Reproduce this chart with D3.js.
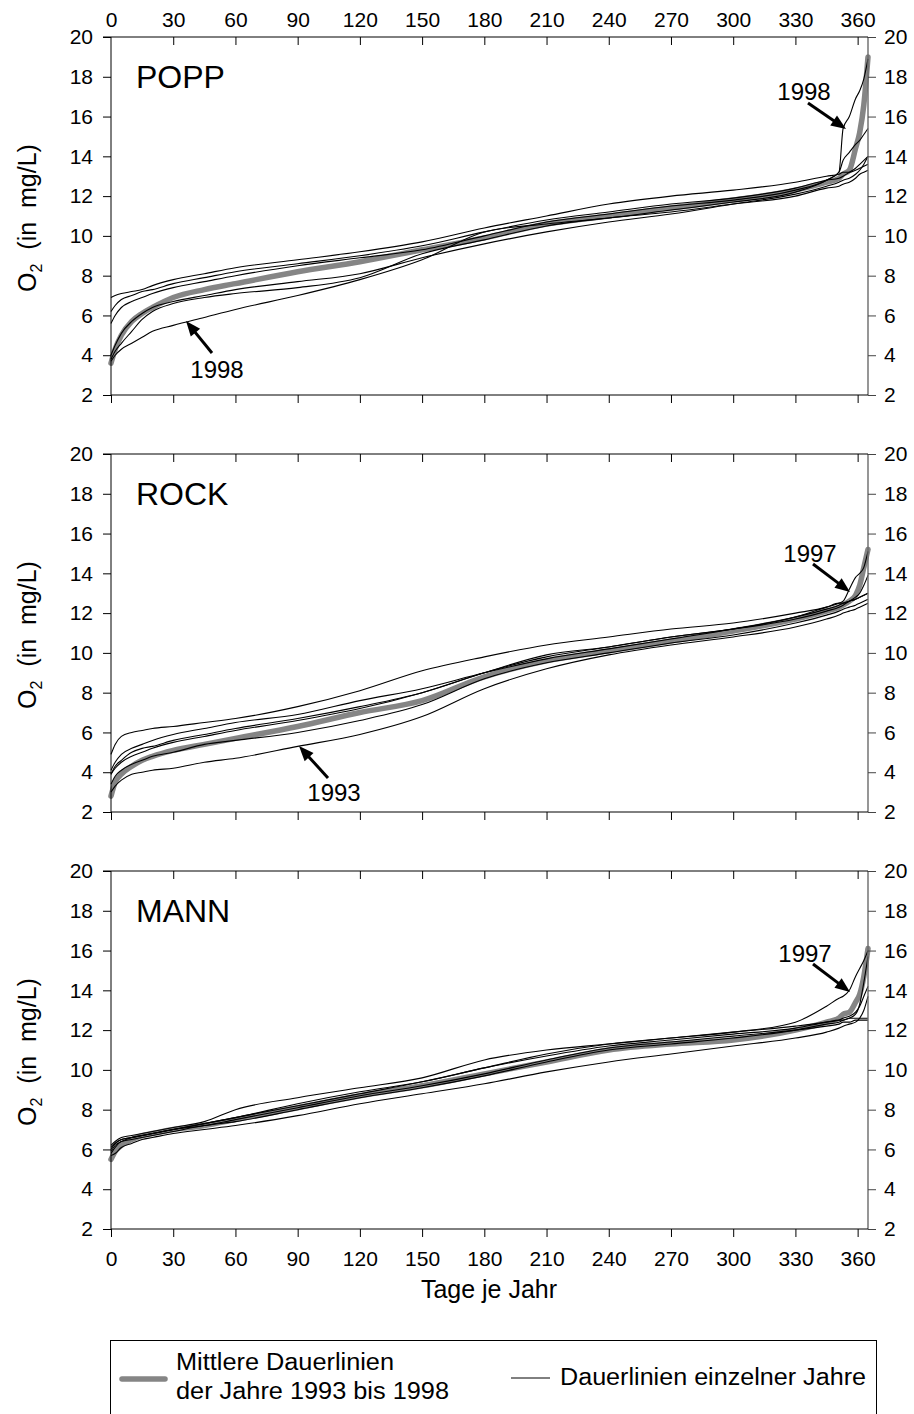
<!DOCTYPE html>
<html>
<head>
<meta charset="utf-8">
<script src="https://cdn.jsdelivr.net/npm/d3@7/dist/d3.min.js"></script>
<style>
  html, body { margin: 0; padding: 0; background: #fff; }
  svg { display: block; font-family: "Liberation Sans", Arial, sans-serif; }
</style>
</head>
<body>
<svg id="chart" width="914" height="1414"></svg>
<script>
// Duration curves of dissolved oxygen (O2, mg/L) at three stations, 1993-1998.
// Each series is the sorted daily values of one year; "mean" is the averaged curve.

const days = [0, 2, 5, 10, 15, 20, 30, 45, 60, 90, 120, 150, 180, 210, 240, 270, 300, 330, 345, 351, 353, 356, 359, 361, 363, 365];

const xTicks = [0, 30, 60, 90, 120, 150, 180, 210, 240, 270, 300, 330, 360];
const yTicks = [2, 4, 6, 8, 10, 12, 14, 16, 18, 20];

// POPP
const poppMean = [3.6, 4.3, 5.0, 5.7, 6.1, 6.4, 6.9, 7.3, 7.6, 8.2, 8.7, 9.3, 9.9, 10.6, 11.0, 11.4, 11.8, 12.3, 12.7, 12.9, 13.1, 13.3, 14.4, 15.2, 16.6, 19.0];
const popp1998 = [3.7, 4.0, 4.3, 4.6, 4.9, 5.2, 5.5, 5.9, 6.3, 7.0, 7.8, 8.8, 10.2, 10.6, 10.9, 11.3, 11.7, 12.2, 12.8, 13.2, 15.4, 16.0, 16.9, 17.3, 17.9, 18.9];
const poppA = [6.9, 7.0, 7.1, 7.2, 7.3, 7.5, 7.8, 8.1, 8.4, 8.8, 9.2, 9.7, 10.4, 11.0, 11.6, 12.0, 12.3, 12.7, 13.0, 13.1, 13.2, 13.2, 13.3, 13.4, 13.5, 13.6];
const poppB = [6.2, 6.5, 6.8, 7.0, 7.2, 7.3, 7.6, 7.9, 8.2, 8.6, 9.0, 9.5, 10.2, 10.8, 11.2, 11.6, 11.9, 12.4, 12.8, 12.9, 13.0, 13.2, 13.4, 13.6, 13.8, 14.0];
const poppC = [5.6, 6.0, 6.4, 6.7, 6.9, 7.1, 7.4, 7.7, 8.0, 8.5, 8.9, 9.3, 10.0, 10.7, 11.1, 11.5, 11.8, 12.3, 12.8, 13.2, 13.8, 14.2, 14.6, 14.8, 15.1, 15.4];
const poppD = [4.0, 4.5, 5.1, 5.7, 6.1, 6.4, 6.7, 7.0, 7.3, 7.7, 8.1, 8.9, 9.6, 10.2, 10.7, 11.1, 11.6, 12.1, 12.5, 12.7, 12.8, 12.9, 13.1, 13.3, 13.6, 14.0];
const poppE = [3.8, 4.2, 4.6, 5.2, 5.8, 6.2, 6.6, 6.9, 7.1, 7.4, 7.9, 9.1, 9.8, 10.5, 10.9, 11.2, 11.6, 12.0, 12.4, 12.5, 12.6, 12.7, 12.9, 13.1, 13.2, 13.3];

// ROCK
const rockMean = [2.8, 3.5, 3.9, 4.3, 4.6, 4.8, 5.1, 5.4, 5.7, 6.3, 7.0, 7.6, 8.8, 9.6, 10.1, 10.6, 11.1, 11.7, 12.1, 12.3, 12.4, 12.6, 12.9, 13.4, 14.3, 15.2];
const rock1993 = [3.0, 3.3, 3.6, 3.9, 4.0, 4.1, 4.2, 4.5, 4.7, 5.3, 5.9, 6.8, 8.2, 9.2, 9.9, 10.4, 10.8, 11.3, 11.7, 11.9, 12.0, 12.1, 12.2, 12.3, 12.4, 12.5];
const rock1997 = [3.9, 4.2, 4.5, 4.8, 5.0, 5.2, 5.5, 5.8, 6.1, 6.6, 7.2, 8.0, 9.0, 9.8, 10.3, 10.8, 11.2, 11.8, 12.3, 12.5, 12.6, 13.2, 13.8, 14.0, 14.3, 15.1];
const rockA = [4.9, 5.4, 5.8, 6.0, 6.1, 6.2, 6.3, 6.5, 6.7, 7.3, 8.1, 9.1, 9.8, 10.4, 10.8, 11.2, 11.5, 12.0, 12.3, 12.5, 12.5, 12.6, 12.7, 12.8, 12.9, 13.0];
const rockB = [4.1, 4.5, 4.9, 5.2, 5.4, 5.6, 5.9, 6.2, 6.5, 6.9, 7.6, 8.2, 9.0, 9.7, 10.2, 10.7, 11.2, 11.8, 12.2, 12.4, 12.5, 12.6, 12.7, 12.8, 12.9, 13.0];
const rockC = [3.9, 4.3, 4.6, 5.0, 5.2, 5.3, 5.6, 5.9, 6.2, 6.7, 7.3, 8.0, 9.0, 9.9, 10.3, 10.8, 11.2, 11.7, 12.1, 12.3, 12.4, 12.6, 12.8, 13.0, 13.4, 13.9];
const rockD = [3.4, 3.8, 4.1, 4.4, 4.6, 4.8, 5.0, 5.4, 5.6, 6.0, 6.6, 7.4, 8.7, 9.5, 10.0, 10.5, 10.9, 11.5, 11.9, 12.1, 12.2, 12.3, 12.4, 12.5, 12.6, 12.7];

// MANN
const mannMean = [5.5, 5.9, 6.2, 6.5, 6.7, 6.8, 7.0, 7.2, 7.5, 8.1, 8.7, 9.2, 9.8, 10.4, 11.0, 11.3, 11.5, 12.0, 12.4, 12.6, 12.8, 12.9, 13.4, 13.8, 14.7, 16.1];
const mann1997 = [6.1, 6.3, 6.5, 6.6, 6.7, 6.8, 7.0, 7.3, 7.6, 8.2, 8.8, 9.4, 10.1, 10.8, 11.3, 11.6, 11.9, 12.4, 13.2, 13.6, 13.7, 14.0, 14.7, 15.1, 15.5, 16.0];
const mannA = [6.2, 6.4, 6.6, 6.7, 6.8, 6.9, 7.1, 7.4, 8.0, 8.6, 9.1, 9.6, 10.5, 11.0, 11.3, 11.6, 11.9, 12.2, 12.4, 12.5, 12.5, 12.6, 12.6, 12.6, 12.6, 12.6];
const mannB = [5.9, 6.2, 6.4, 6.6, 6.7, 6.8, 7.0, 7.3, 7.6, 8.3, 8.9, 9.4, 10.1, 10.7, 11.2, 11.5, 11.8, 12.1, 12.4, 12.5, 12.6, 12.7, 12.9, 13.2, 13.7, 14.2];
const mannC = [5.8, 6.1, 6.4, 6.5, 6.6, 6.7, 6.9, 7.2, 7.4, 8.0, 8.6, 9.1, 9.7, 10.4, 11.0, 11.3, 11.6, 12.0, 12.3, 12.4, 12.5, 12.6, 12.8, 13.3, 14.4, 15.7];
const mannD = [5.7, 5.8, 6.1, 6.3, 6.5, 6.6, 6.8, 7.0, 7.2, 7.7, 8.3, 8.8, 9.3, 9.9, 10.4, 10.8, 11.2, 11.6, 11.9, 12.1, 12.2, 12.3, 12.4, 12.6, 13.0, 13.7];
const mannE = [6.0, 6.3, 6.5, 6.6, 6.7, 6.8, 7.0, 7.2, 7.5, 8.1, 8.7, 9.2, 9.8, 10.5, 11.1, 11.4, 11.7, 12.0, 12.2, 12.3, 12.4, 12.4, 12.5, 12.5, 12.5, 12.5];

const stations = [
  { name: "POPP", mean: poppMean, years: [poppA, poppB, poppC, poppD, poppE, popp1998],
    notes: [ { text: "1998", tx: 217, ty: 378, from: [212, 353], to: [186, 321] },
             { text: "1998", tx: 804, ty: 100, from: [808, 103], to: [846, 129] } ] },
  { name: "ROCK", mean: rockMean, years: [rockA, rockB, rockC, rockD, rock1997, rock1993],
    notes: [ { text: "1997", tx: 810, ty: 562, from: [813, 564], to: [850, 592] },
             { text: "1993", tx: 334, ty: 801, from: [328, 778], to: [299, 746] } ] },
  { name: "MANN", mean: mannMean, years: [mannA, mannB, mannC, mannD, mannE, mann1997],
    notes: [ { text: "1997", tx: 805, ty: 962, from: [813, 964], to: [850, 992] } ] }
];

const svg = d3.select("#chart");
const left = 111, right = 868;
const panelTops = [37, 454, 871];
const panelH = 358;

const x = d3.scaleLinear().domain([0, 365]).range([left, right]);

function drawArrow(g, from, to) {
  const dx = to[0] - from[0], dy = to[1] - from[1];
  const len = Math.hypot(dx, dy);
  const ux = dx / len, uy = dy / len;
  const headL = 15, headW = 6;
  const bx = to[0] - ux * headL, by = to[1] - uy * headL;
  g.append("line")
    .attr("x1", from[0]).attr("y1", from[1])
    .attr("x2", bx + ux * 2).attr("y2", by + uy * 2)
    .attr("stroke", "#000").attr("stroke-width", 3);
  g.append("path")
    .attr("d", `M${to[0]},${to[1]} L${bx - uy * headW},${by + ux * headW} L${bx + uy * headW},${by - ux * headW} Z`)
    .attr("fill", "#000");
}

stations.forEach((st, i) => {
  const top = panelTops[i];
  const y = d3.scaleLinear().domain([2, 20]).range([top + panelH, top]);
  const g = svg.append("g");

  const line = d3.line()
    .x((d, k) => x(days[k]))
    .y(d => y(d))
    .curve(d3.curveMonotoneX);

  // mean curve beneath the single-year curves
  g.append("path").datum(st.mean)
    .attr("d", line)
    .attr("fill", "none").attr("stroke", "#858585")
    .attr("stroke-width", 5.5).attr("stroke-linejoin", "round").attr("stroke-linecap", "round");

  st.years.forEach(vals => {
    g.append("path").datum(vals)
      .attr("d", line)
      .attr("fill", "none").attr("stroke", "#000")
      .attr("stroke-width", 1.1);
  });

  // axes
  const axL = d3.axisLeft(y).tickValues(yTicks).tickSize(8).tickPadding(10);
  const axR = d3.axisRight(y).tickValues(yTicks).tickSize(8).tickPadding(8);
  const axB = d3.axisBottom(x).tickValues(xTicks).tickSize(8).tickPadding(14);
  const axT = d3.axisTop(x).tickValues(xTicks).tickSize(-8).tickPadding(10);

  const gl = g.append("g").attr("transform", `translate(${left},0)`).call(axL);
  const gr = g.append("g").attr("transform", `translate(${right},0)`).call(axR);
  const gb = g.append("g").attr("transform", `translate(0,${top + panelH})`).call(axB);
  const gt = g.append("g").attr("transform", `translate(0,${top})`).call(axT);

  [gl, gr, gb, gt].forEach(a => {
    a.selectAll("text").attr("font-size", 21).attr("fill", "#000")
      .attr("font-family", "'Liberation Sans', Arial, sans-serif");
    a.select(".domain").attr("stroke", "#000");
    a.selectAll(".tick line").attr("stroke", "#000");
  });
  gr.select(".domain").attr("stroke", "#6a6a6a").attr("stroke-width", 1.4);
  gr.selectAll(".tick line").attr("stroke", "#444");
  gl.select(".domain").attr("d", `M0,${top + panelH}V${top}`);
  gr.select(".domain").attr("d", `M0,${top + panelH}V${top}`);
  gb.select(".domain").attr("d", `M${left},0H${right}`);
  gt.select(".domain").attr("d", `M${left - 8},0H${right}`);
  gt.selectAll(".tick").filter(d => d === 0).select("line").remove();

  if (i !== 0) gt.selectAll("text").remove();
  if (i !== 2) gb.selectAll("text").remove();

  // station name
  g.append("text").attr("x", 136).attr("y", top + 51)
    .attr("font-size", 32).text(st.name);

  // y-axis title
  const yt = g.append("text")
    .attr("transform", `translate(36,${top + panelH / 2 + 2}) rotate(-90)`)
    .attr("text-anchor", "middle").attr("font-size", 25);
  yt.append("tspan").text("O");
  yt.append("tspan").attr("font-size", 16).attr("dy", 6).text("2");
  yt.append("tspan").attr("dy", -6).attr("xml:space", "preserve").text("  (in  mg/L)");

  // annotations
  st.notes.forEach(n => {
    drawArrow(g, n.from, n.to);
    g.append("text").attr("x", n.tx).attr("y", n.ty)
      .attr("text-anchor", "middle").attr("font-size", 24).text(n.text);
  });
});

// x-axis title
svg.append("text").attr("x", 489).attr("y", 1298)
  .attr("text-anchor", "middle").attr("font-size", 25).text("Tage je Jahr");

// legend (text is set a little wider than its natural width)
const lg = svg.append("g");
lg.append("rect").attr("x", 110.5).attr("y", 1340.5).attr("width", 766).attr("height", 100)
  .attr("fill", "none").attr("stroke", "#000").attr("stroke-width", 1);
lg.append("line").attr("x1", 122).attr("x2", 165).attr("y1", 1379).attr("y2", 1379)
  .attr("stroke", "#858585").attr("stroke-width", 5.5).attr("stroke-linecap", "round");
lg.append("text").attr("x", 176).attr("y", 1370).attr("font-size", 23)
  .attr("textLength", 218).attr("lengthAdjust", "spacingAndGlyphs").text("Mittlere Dauerlinien");
lg.append("text").attr("x", 176).attr("y", 1399).attr("font-size", 23)
  .attr("textLength", 273).attr("lengthAdjust", "spacingAndGlyphs").text("der Jahre 1993 bis 1998");
lg.append("line").attr("x1", 511).attr("x2", 550).attr("y1", 1378).attr("y2", 1378)
  .attr("stroke", "#000").attr("stroke-width", 1);
lg.append("text").attr("x", 560).attr("y", 1385).attr("font-size", 23)
  .attr("textLength", 306).attr("lengthAdjust", "spacingAndGlyphs").text("Dauerlinien einzelner Jahre");
</script>
</body>
</html>
